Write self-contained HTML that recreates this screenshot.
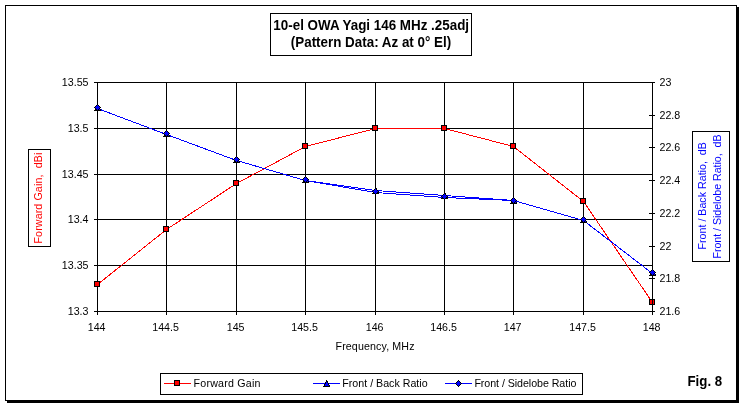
<!DOCTYPE html>
<html><head><meta charset="utf-8"><title>10-el OWA Yagi 146 MHz .25adj</title>
<style>
html,body{margin:0;padding:0;background:#fff;}
body{width:744px;height:407px;overflow:hidden;}
svg{display:block;will-change:transform;}
text{font-family:"Liberation Sans",sans-serif;}
.s{font-size:10.67px;fill:#000;}
.b{font-size:14px;font-weight:bold;fill:#000;}
</style></head><body>
<svg width="744" height="407" viewBox="0 0 744 407">
<rect x="0" y="0" width="744" height="407" fill="#fff"/>
<g shape-rendering="crispEdges">
<rect x="737" y="7" width="2" height="396" fill="#000"/>
<rect x="7" y="401" width="732" height="2" fill="#000"/>
<rect x="5.5" y="5.5" width="731" height="395" fill="#fff" stroke="#000" stroke-width="1"/>
<rect x="270.5" y="13.5" width="201" height="42" fill="#fff" stroke="#000" stroke-width="1"/>
<rect x="94" y="82" width="559" height="1" fill="#000"/>
<rect x="94" y="128" width="559" height="1" fill="#000"/>
<rect x="94" y="174" width="559" height="1" fill="#000"/>
<rect x="94" y="219" width="559" height="1" fill="#000"/>
<rect x="94" y="265" width="559" height="1" fill="#000"/>
<rect x="94" y="311" width="559" height="1" fill="#000"/>
<rect x="97" y="82" width="1" height="233" fill="#000"/>
<rect x="166" y="82" width="1" height="233" fill="#000"/>
<rect x="236" y="82" width="1" height="233" fill="#000"/>
<rect x="305" y="82" width="1" height="233" fill="#000"/>
<rect x="375" y="82" width="1" height="233" fill="#000"/>
<rect x="444" y="82" width="1" height="233" fill="#000"/>
<rect x="513" y="82" width="1" height="233" fill="#000"/>
<rect x="583" y="82" width="1" height="233" fill="#000"/>
<rect x="652" y="82" width="1" height="233" fill="#000"/>
<rect x="649" y="82" width="6" height="1" fill="#000"/>
<rect x="649" y="115" width="6" height="1" fill="#000"/>
<rect x="649" y="147" width="6" height="1" fill="#000"/>
<rect x="649" y="180" width="6" height="1" fill="#000"/>
<rect x="649" y="213" width="6" height="1" fill="#000"/>
<rect x="649" y="246" width="6" height="1" fill="#000"/>
<rect x="649" y="278" width="6" height="1" fill="#000"/>
<rect x="649" y="311" width="6" height="1" fill="#000"/>
<polyline points="97.5,284.5 166.5,229.5 236.5,183.5 305.5,146.5 375.5,128.5 444.5,128.5 513.5,146.5 583.5,201.5 652.5,302.5" fill="none" stroke="#f00" stroke-width="1"/>
<polyline points="97.5,108.5 166.5,134.5 236.5,160.5 305.5,180.5 375.5,190.5 444.5,195.5 513.5,200.5 583.5,220.5 652.5,273.5" fill="none" stroke="#00f" stroke-width="1"/>
<polyline points="97.5,108.5 166.5,134.5 236.5,160.5 305.5,180.5 375.5,192.5 444.5,197.5 513.5,200.5 583.5,220.5 652.5,273.5" fill="none" stroke="#00f" stroke-width="1"/>
<g transform="translate(97,284)"><rect x="-3" y="-3" width="6" height="6" fill="#000"/><rect x="-2" y="-2" width="4" height="4" fill="#f00"/></g>
<g transform="translate(166,229)"><rect x="-3" y="-3" width="6" height="6" fill="#000"/><rect x="-2" y="-2" width="4" height="4" fill="#f00"/></g>
<g transform="translate(236,183)"><rect x="-3" y="-3" width="6" height="6" fill="#000"/><rect x="-2" y="-2" width="4" height="4" fill="#f00"/></g>
<g transform="translate(305,146)"><rect x="-3" y="-3" width="6" height="6" fill="#000"/><rect x="-2" y="-2" width="4" height="4" fill="#f00"/></g>
<g transform="translate(375,128)"><rect x="-3" y="-3" width="6" height="6" fill="#000"/><rect x="-2" y="-2" width="4" height="4" fill="#f00"/></g>
<g transform="translate(444,128)"><rect x="-3" y="-3" width="6" height="6" fill="#000"/><rect x="-2" y="-2" width="4" height="4" fill="#f00"/></g>
<g transform="translate(513,146)"><rect x="-3" y="-3" width="6" height="6" fill="#000"/><rect x="-2" y="-2" width="4" height="4" fill="#f00"/></g>
<g transform="translate(583,201)"><rect x="-3" y="-3" width="6" height="6" fill="#000"/><rect x="-2" y="-2" width="4" height="4" fill="#f00"/></g>
<g transform="translate(652,302)"><rect x="-3" y="-3" width="6" height="6" fill="#000"/><rect x="-2" y="-2" width="4" height="4" fill="#f00"/></g>
<g transform="translate(97,107)"><rect x="0" y="-3" width="1" height="1" fill="#000"/><rect x="0" y="-2" width="2" height="1" fill="#000"/><rect x="-1" y="-1" width="3" height="1" fill="#000"/><rect x="-1" y="0" width="4" height="1" fill="#000"/><rect x="-2" y="1" width="5" height="1" fill="#000"/><rect x="-2" y="2" width="6" height="1" fill="#000"/><rect x="-3" y="3" width="7" height="1" fill="#000"/><rect x="0" y="-1" width="1" height="1" fill="#00f"/><rect x="0" y="0" width="2" height="1" fill="#00f"/><rect x="-1" y="1" width="3" height="1" fill="#00f"/><rect x="-1" y="2" width="4" height="1" fill="#00f"/></g>
<g transform="translate(166,133)"><rect x="0" y="-3" width="1" height="1" fill="#000"/><rect x="0" y="-2" width="2" height="1" fill="#000"/><rect x="-1" y="-1" width="3" height="1" fill="#000"/><rect x="-1" y="0" width="4" height="1" fill="#000"/><rect x="-2" y="1" width="5" height="1" fill="#000"/><rect x="-2" y="2" width="6" height="1" fill="#000"/><rect x="-3" y="3" width="7" height="1" fill="#000"/><rect x="0" y="-1" width="1" height="1" fill="#00f"/><rect x="0" y="0" width="2" height="1" fill="#00f"/><rect x="-1" y="1" width="3" height="1" fill="#00f"/><rect x="-1" y="2" width="4" height="1" fill="#00f"/></g>
<g transform="translate(236,159)"><rect x="0" y="-3" width="1" height="1" fill="#000"/><rect x="0" y="-2" width="2" height="1" fill="#000"/><rect x="-1" y="-1" width="3" height="1" fill="#000"/><rect x="-1" y="0" width="4" height="1" fill="#000"/><rect x="-2" y="1" width="5" height="1" fill="#000"/><rect x="-2" y="2" width="6" height="1" fill="#000"/><rect x="-3" y="3" width="7" height="1" fill="#000"/><rect x="0" y="-1" width="1" height="1" fill="#00f"/><rect x="0" y="0" width="2" height="1" fill="#00f"/><rect x="-1" y="1" width="3" height="1" fill="#00f"/><rect x="-1" y="2" width="4" height="1" fill="#00f"/></g>
<g transform="translate(305,179)"><rect x="0" y="-3" width="1" height="1" fill="#000"/><rect x="0" y="-2" width="2" height="1" fill="#000"/><rect x="-1" y="-1" width="3" height="1" fill="#000"/><rect x="-1" y="0" width="4" height="1" fill="#000"/><rect x="-2" y="1" width="5" height="1" fill="#000"/><rect x="-2" y="2" width="6" height="1" fill="#000"/><rect x="-3" y="3" width="7" height="1" fill="#000"/><rect x="0" y="-1" width="1" height="1" fill="#00f"/><rect x="0" y="0" width="2" height="1" fill="#00f"/><rect x="-1" y="1" width="3" height="1" fill="#00f"/><rect x="-1" y="2" width="4" height="1" fill="#00f"/></g>
<g transform="translate(375,190)"><rect x="0" y="-3" width="1" height="1" fill="#000"/><rect x="0" y="-2" width="2" height="1" fill="#000"/><rect x="-1" y="-1" width="3" height="1" fill="#000"/><rect x="-1" y="0" width="4" height="1" fill="#000"/><rect x="-2" y="1" width="5" height="1" fill="#000"/><rect x="-2" y="2" width="6" height="1" fill="#000"/><rect x="-3" y="3" width="7" height="1" fill="#000"/><rect x="0" y="-1" width="1" height="1" fill="#00f"/><rect x="0" y="0" width="2" height="1" fill="#00f"/><rect x="-1" y="1" width="3" height="1" fill="#00f"/><rect x="-1" y="2" width="4" height="1" fill="#00f"/></g>
<g transform="translate(444,195)"><rect x="0" y="-3" width="1" height="1" fill="#000"/><rect x="0" y="-2" width="2" height="1" fill="#000"/><rect x="-1" y="-1" width="3" height="1" fill="#000"/><rect x="-1" y="0" width="4" height="1" fill="#000"/><rect x="-2" y="1" width="5" height="1" fill="#000"/><rect x="-2" y="2" width="6" height="1" fill="#000"/><rect x="-3" y="3" width="7" height="1" fill="#000"/><rect x="0" y="-1" width="1" height="1" fill="#00f"/><rect x="0" y="0" width="2" height="1" fill="#00f"/><rect x="-1" y="1" width="3" height="1" fill="#00f"/><rect x="-1" y="2" width="4" height="1" fill="#00f"/></g>
<g transform="translate(513,200)"><rect x="0" y="-3" width="1" height="1" fill="#000"/><rect x="0" y="-2" width="2" height="1" fill="#000"/><rect x="-1" y="-1" width="3" height="1" fill="#000"/><rect x="-1" y="0" width="4" height="1" fill="#000"/><rect x="-2" y="1" width="5" height="1" fill="#000"/><rect x="-2" y="2" width="6" height="1" fill="#000"/><rect x="-3" y="3" width="7" height="1" fill="#000"/><rect x="0" y="-1" width="1" height="1" fill="#00f"/><rect x="0" y="0" width="2" height="1" fill="#00f"/><rect x="-1" y="1" width="3" height="1" fill="#00f"/><rect x="-1" y="2" width="4" height="1" fill="#00f"/></g>
<g transform="translate(583,219)"><rect x="0" y="-3" width="1" height="1" fill="#000"/><rect x="0" y="-2" width="2" height="1" fill="#000"/><rect x="-1" y="-1" width="3" height="1" fill="#000"/><rect x="-1" y="0" width="4" height="1" fill="#000"/><rect x="-2" y="1" width="5" height="1" fill="#000"/><rect x="-2" y="2" width="6" height="1" fill="#000"/><rect x="-3" y="3" width="7" height="1" fill="#000"/><rect x="0" y="-1" width="1" height="1" fill="#00f"/><rect x="0" y="0" width="2" height="1" fill="#00f"/><rect x="-1" y="1" width="3" height="1" fill="#00f"/><rect x="-1" y="2" width="4" height="1" fill="#00f"/></g>
<g transform="translate(652,272)"><rect x="0" y="-3" width="1" height="1" fill="#000"/><rect x="0" y="-2" width="2" height="1" fill="#000"/><rect x="-1" y="-1" width="3" height="1" fill="#000"/><rect x="-1" y="0" width="4" height="1" fill="#000"/><rect x="-2" y="1" width="5" height="1" fill="#000"/><rect x="-2" y="2" width="6" height="1" fill="#000"/><rect x="-3" y="3" width="7" height="1" fill="#000"/><rect x="0" y="-1" width="1" height="1" fill="#00f"/><rect x="0" y="0" width="2" height="1" fill="#00f"/><rect x="-1" y="1" width="3" height="1" fill="#00f"/><rect x="-1" y="2" width="4" height="1" fill="#00f"/></g>
<g transform="translate(97,107)"><rect x="0" y="-3" width="1" height="1" fill="#000"/><rect x="-1" y="-2" width="3" height="1" fill="#000"/><rect x="-2" y="-1" width="5" height="1" fill="#000"/><rect x="-3" y="0" width="7" height="1" fill="#000"/><rect x="-2" y="1" width="5" height="1" fill="#000"/><rect x="-1" y="2" width="3" height="1" fill="#000"/><rect x="0" y="3" width="1" height="1" fill="#000"/><rect x="0" y="-2" width="1" height="1" fill="#00f"/><rect x="-1" y="-1" width="3" height="1" fill="#00f"/><rect x="-2" y="0" width="5" height="1" fill="#00f"/><rect x="-1" y="1" width="3" height="1" fill="#00f"/><rect x="0" y="2" width="1" height="1" fill="#00f"/></g>
<g transform="translate(166,133)"><rect x="0" y="-3" width="1" height="1" fill="#000"/><rect x="-1" y="-2" width="3" height="1" fill="#000"/><rect x="-2" y="-1" width="5" height="1" fill="#000"/><rect x="-3" y="0" width="7" height="1" fill="#000"/><rect x="-2" y="1" width="5" height="1" fill="#000"/><rect x="-1" y="2" width="3" height="1" fill="#000"/><rect x="0" y="3" width="1" height="1" fill="#000"/><rect x="0" y="-2" width="1" height="1" fill="#00f"/><rect x="-1" y="-1" width="3" height="1" fill="#00f"/><rect x="-2" y="0" width="5" height="1" fill="#00f"/><rect x="-1" y="1" width="3" height="1" fill="#00f"/><rect x="0" y="2" width="1" height="1" fill="#00f"/></g>
<g transform="translate(236,159)"><rect x="0" y="-3" width="1" height="1" fill="#000"/><rect x="-1" y="-2" width="3" height="1" fill="#000"/><rect x="-2" y="-1" width="5" height="1" fill="#000"/><rect x="-3" y="0" width="7" height="1" fill="#000"/><rect x="-2" y="1" width="5" height="1" fill="#000"/><rect x="-1" y="2" width="3" height="1" fill="#000"/><rect x="0" y="3" width="1" height="1" fill="#000"/><rect x="0" y="-2" width="1" height="1" fill="#00f"/><rect x="-1" y="-1" width="3" height="1" fill="#00f"/><rect x="-2" y="0" width="5" height="1" fill="#00f"/><rect x="-1" y="1" width="3" height="1" fill="#00f"/><rect x="0" y="2" width="1" height="1" fill="#00f"/></g>
<g transform="translate(305,179)"><rect x="0" y="-3" width="1" height="1" fill="#000"/><rect x="-1" y="-2" width="3" height="1" fill="#000"/><rect x="-2" y="-1" width="5" height="1" fill="#000"/><rect x="-3" y="0" width="7" height="1" fill="#000"/><rect x="-2" y="1" width="5" height="1" fill="#000"/><rect x="-1" y="2" width="3" height="1" fill="#000"/><rect x="0" y="3" width="1" height="1" fill="#000"/><rect x="0" y="-2" width="1" height="1" fill="#00f"/><rect x="-1" y="-1" width="3" height="1" fill="#00f"/><rect x="-2" y="0" width="5" height="1" fill="#00f"/><rect x="-1" y="1" width="3" height="1" fill="#00f"/><rect x="0" y="2" width="1" height="1" fill="#00f"/></g>
<g transform="translate(375,191)"><rect x="0" y="-3" width="1" height="1" fill="#000"/><rect x="-1" y="-2" width="3" height="1" fill="#000"/><rect x="-2" y="-1" width="5" height="1" fill="#000"/><rect x="-3" y="0" width="7" height="1" fill="#000"/><rect x="-2" y="1" width="5" height="1" fill="#000"/><rect x="-1" y="2" width="3" height="1" fill="#000"/><rect x="0" y="3" width="1" height="1" fill="#000"/><rect x="0" y="-2" width="1" height="1" fill="#00f"/><rect x="-1" y="-1" width="3" height="1" fill="#00f"/><rect x="-2" y="0" width="5" height="1" fill="#00f"/><rect x="-1" y="1" width="3" height="1" fill="#00f"/><rect x="0" y="2" width="1" height="1" fill="#00f"/></g>
<g transform="translate(444,196)"><rect x="0" y="-3" width="1" height="1" fill="#000"/><rect x="-1" y="-2" width="3" height="1" fill="#000"/><rect x="-2" y="-1" width="5" height="1" fill="#000"/><rect x="-3" y="0" width="7" height="1" fill="#000"/><rect x="-2" y="1" width="5" height="1" fill="#000"/><rect x="-1" y="2" width="3" height="1" fill="#000"/><rect x="0" y="3" width="1" height="1" fill="#000"/><rect x="0" y="-2" width="1" height="1" fill="#00f"/><rect x="-1" y="-1" width="3" height="1" fill="#00f"/><rect x="-2" y="0" width="5" height="1" fill="#00f"/><rect x="-1" y="1" width="3" height="1" fill="#00f"/><rect x="0" y="2" width="1" height="1" fill="#00f"/></g>
<g transform="translate(513,200)"><rect x="0" y="-3" width="1" height="1" fill="#000"/><rect x="-1" y="-2" width="3" height="1" fill="#000"/><rect x="-2" y="-1" width="5" height="1" fill="#000"/><rect x="-3" y="0" width="7" height="1" fill="#000"/><rect x="-2" y="1" width="5" height="1" fill="#000"/><rect x="-1" y="2" width="3" height="1" fill="#000"/><rect x="0" y="3" width="1" height="1" fill="#000"/><rect x="0" y="-2" width="1" height="1" fill="#00f"/><rect x="-1" y="-1" width="3" height="1" fill="#00f"/><rect x="-2" y="0" width="5" height="1" fill="#00f"/><rect x="-1" y="1" width="3" height="1" fill="#00f"/><rect x="0" y="2" width="1" height="1" fill="#00f"/></g>
<g transform="translate(583,219)"><rect x="0" y="-3" width="1" height="1" fill="#000"/><rect x="-1" y="-2" width="3" height="1" fill="#000"/><rect x="-2" y="-1" width="5" height="1" fill="#000"/><rect x="-3" y="0" width="7" height="1" fill="#000"/><rect x="-2" y="1" width="5" height="1" fill="#000"/><rect x="-1" y="2" width="3" height="1" fill="#000"/><rect x="0" y="3" width="1" height="1" fill="#000"/><rect x="0" y="-2" width="1" height="1" fill="#00f"/><rect x="-1" y="-1" width="3" height="1" fill="#00f"/><rect x="-2" y="0" width="5" height="1" fill="#00f"/><rect x="-1" y="1" width="3" height="1" fill="#00f"/><rect x="0" y="2" width="1" height="1" fill="#00f"/></g>
<g transform="translate(652,272)"><rect x="0" y="-3" width="1" height="1" fill="#000"/><rect x="-1" y="-2" width="3" height="1" fill="#000"/><rect x="-2" y="-1" width="5" height="1" fill="#000"/><rect x="-3" y="0" width="7" height="1" fill="#000"/><rect x="-2" y="1" width="5" height="1" fill="#000"/><rect x="-1" y="2" width="3" height="1" fill="#000"/><rect x="0" y="3" width="1" height="1" fill="#000"/><rect x="0" y="-2" width="1" height="1" fill="#00f"/><rect x="-1" y="-1" width="3" height="1" fill="#00f"/><rect x="-2" y="0" width="5" height="1" fill="#00f"/><rect x="-1" y="1" width="3" height="1" fill="#00f"/><rect x="0" y="2" width="1" height="1" fill="#00f"/></g>
<rect x="652" y="296" width="1" height="12" fill="#000"/>
<rect x="28.5" y="149.5" width="22" height="97" fill="#fff" stroke="#000" stroke-width="1"/>
<rect x="692.5" y="131.5" width="37" height="130" fill="#fff" stroke="#000" stroke-width="1"/>
<rect x="160.5" y="373.5" width="422" height="21" fill="#fff" stroke="#000" stroke-width="1"/>
<rect x="164" y="383" width="27" height="1" fill="#f00"/>
<g transform="translate(177,383)"><rect x="-3" y="-3" width="6" height="6" fill="#000"/><rect x="-2" y="-2" width="4" height="4" fill="#f00"/></g>
<rect x="313" y="383" width="27" height="1" fill="#00f"/>
<g transform="translate(326,383)"><rect x="0" y="-3" width="1" height="1" fill="#000"/><rect x="0" y="-2" width="2" height="1" fill="#000"/><rect x="-1" y="-1" width="3" height="1" fill="#000"/><rect x="-1" y="0" width="4" height="1" fill="#000"/><rect x="-2" y="1" width="5" height="1" fill="#000"/><rect x="-2" y="2" width="6" height="1" fill="#000"/><rect x="-3" y="3" width="7" height="1" fill="#000"/><rect x="0" y="-1" width="1" height="1" fill="#00f"/><rect x="0" y="0" width="2" height="1" fill="#00f"/><rect x="-1" y="1" width="3" height="1" fill="#00f"/><rect x="-1" y="2" width="4" height="1" fill="#00f"/></g>
<rect x="445" y="383" width="27" height="1" fill="#00f"/>
<g transform="translate(458,383)"><rect x="0" y="-3" width="1" height="1" fill="#000"/><rect x="-1" y="-2" width="3" height="1" fill="#000"/><rect x="-2" y="-1" width="5" height="1" fill="#000"/><rect x="-3" y="0" width="7" height="1" fill="#000"/><rect x="-2" y="1" width="5" height="1" fill="#000"/><rect x="-1" y="2" width="3" height="1" fill="#000"/><rect x="0" y="3" width="1" height="1" fill="#000"/><rect x="0" y="-2" width="1" height="1" fill="#00f"/><rect x="-1" y="-1" width="3" height="1" fill="#00f"/><rect x="-2" y="0" width="5" height="1" fill="#00f"/><rect x="-1" y="1" width="3" height="1" fill="#00f"/><rect x="0" y="2" width="1" height="1" fill="#00f"/></g>
</g>
<text class="b" transform="translate(371.2,30) scale(0.958,1)" text-anchor="middle">10-el OWA Yagi 146 MHz .25adj</text>
<text class="b" transform="translate(371,47) scale(0.958,1)" text-anchor="middle">(Pattern Data: Az at 0° El)</text>
<text class="s" x="88.5" y="86" text-anchor="end">13.55</text>
<text class="s" x="88.5" y="132" text-anchor="end">13.5</text>
<text class="s" x="88.5" y="178" text-anchor="end">13.45</text>
<text class="s" x="88.5" y="223" text-anchor="end">13.4</text>
<text class="s" x="88.5" y="269" text-anchor="end">13.35</text>
<text class="s" x="88.5" y="315" text-anchor="end">13.3</text>
<text class="s" x="659.5" y="86">23</text>
<text class="s" x="659.5" y="119">22.8</text>
<text class="s" x="659.5" y="151">22.6</text>
<text class="s" x="659.5" y="184">22.4</text>
<text class="s" x="659.5" y="217">22.2</text>
<text class="s" x="659.5" y="250">22</text>
<text class="s" x="659.5" y="282">21.8</text>
<text class="s" x="659.5" y="315">21.6</text>
<text class="s" x="96.6" y="331" text-anchor="middle">144</text>
<text class="s" x="165.6" y="331" text-anchor="middle">144.5</text>
<text class="s" x="235.6" y="331" text-anchor="middle">145</text>
<text class="s" x="304.6" y="331" text-anchor="middle">145.5</text>
<text class="s" x="374.6" y="331" text-anchor="middle">146</text>
<text class="s" x="443.6" y="331" text-anchor="middle">146.5</text>
<text class="s" x="512.6" y="331" text-anchor="middle">147</text>
<text class="s" x="582.6" y="331" text-anchor="middle">147.5</text>
<text class="s" x="651.6" y="331" text-anchor="middle">148</text>
<text class="s" x="335.5" y="350" textLength="79" lengthAdjust="spacing">Frequency, MHz</text>
<text class="s" x="193.5" y="387" textLength="67" lengthAdjust="spacing">Forward Gain</text>
<text class="s" x="342.3" y="387">Front / Back Ratio</text>
<text class="s" x="474.4" y="387" textLength="102" lengthAdjust="spacing">Front / Sidelobe Ratio</text>
<text class="b" transform="translate(687.5,386) scale(0.95,1)">Fig. 8</text>
<text class="s" style="fill:#f00;white-space:pre" xml:space="preserve" transform="translate(42,243.5) rotate(-90)" textLength="90.8" lengthAdjust="spacing">Forward Gain,  dBi</text>
<text class="s" style="fill:#00f;white-space:pre" xml:space="preserve" transform="translate(706,249.5) rotate(-90)" textLength="107.4" lengthAdjust="spacing">Front / Back Ratio,  dB</text>
<text class="s" style="fill:#00f;white-space:pre" xml:space="preserve" transform="translate(721,258.5) rotate(-90)" textLength="124" lengthAdjust="spacing">Front / Sidelobe Ratio,  dB</text>
</svg></body></html>
